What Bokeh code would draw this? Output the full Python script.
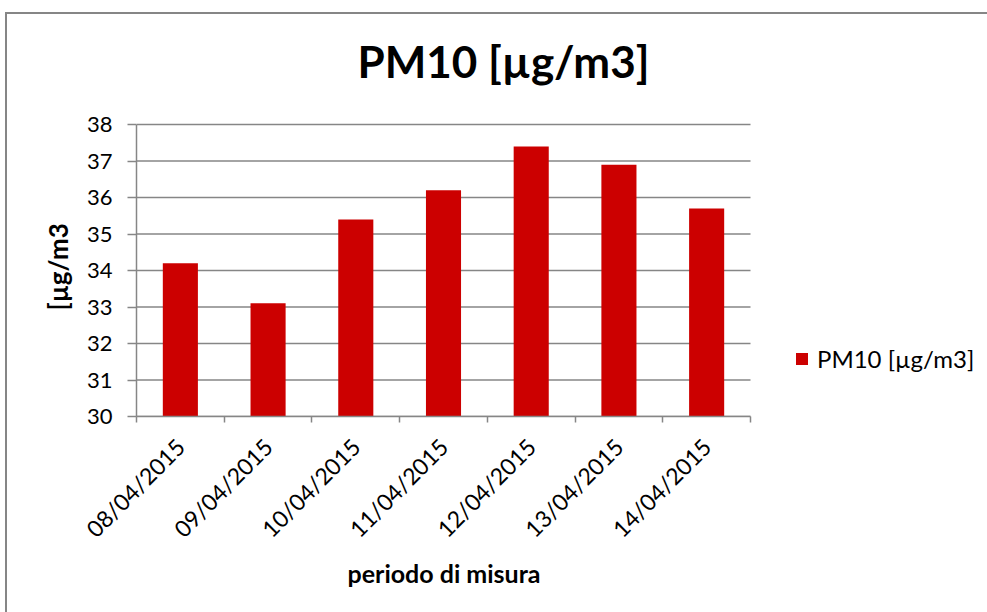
import math
from bokeh.plotting import figure
from bokeh.models import (FixedTicker, Range1d, Legend, LegendItem, ColumnDataSource,
                          Title, Label)
from bokeh.embed import file_html
from bokeh.resources import INLINE
from bokeh.core.properties import value

# ---- data ----
dates = ["08/04/2015", "09/04/2015", "10/04/2015", "11/04/2015",
         "12/04/2015", "13/04/2015", "14/04/2015"]
pm10 = [34.2, 33.1, 35.4, 36.2, 37.4, 36.9, 35.7]
y_ticks = [30, 31, 32, 33, 34, 35, 36, 37, 38]
series_name = "PM10 [µg/m3]"
title_text = "PM10 [µg/m3]"
y_label = "[µg/m3"
x_label = "periodo di misura"

FONT = "Lato"
GRID = "#868686"
BAR = "#CC0000"

# layout (pixels): plot area of the chart
W, H = 987, 612
LEFT, TOP, PLOT_RIGHT, BOTTOM = 136, 124, 750, 416
n = len(dates)
px_per_cat = (PLOT_RIGHT - LEFT) / n
px_per_unit = (BOTTOM - TOP) / (y_ticks[-1] - y_ticks[0])
# the bokeh frame extends right (legend) and up (title) beyond the plot area
x_end = n + (W - PLOT_RIGHT) / px_per_cat
y_end = y_ticks[-1] + TOP / px_per_unit

xs = [i + 0.5 for i in range(n)]
src = ColumnDataSource(dict(x=xs, top=pm10, date=dates))
grid_src = ColumnDataSource(dict(y=y_ticks, x0=[0] * len(y_ticks), x1=[n] * len(y_ticks)))

frame_lines = ("linear-gradient(#868686,#868686) 5px 12px / 2px 100% no-repeat, "
               "linear-gradient(#868686,#868686) 5px 12px / 100% 2px no-repeat, white")

p = figure(width=W, height=H, output_backend="svg", toolbar_location=None,
           x_range=Range1d(0, x_end), y_range=Range1d(y_ticks[0], y_end),
           min_border_left=LEFT, min_border_right=0, min_border_top=0,
           min_border_bottom=H - BOTTOM,
           styles={"background": frame_lines})
p.outline_line_color = None
p.background_fill_color = None
p.border_fill_color = None

# horizontal gridlines limited to the category span
p.segment(x0="x0", x1="x1", y0="y", y1="y", source=grid_src,
          line_color=GRID, line_width=1.5)

r = p.vbar(x="x", top="top", bottom=y_ticks[0], width=0.4, source=src,
           fill_color=BAR, line_color=None)

# x axis: labels at centres, tick marks at category boundaries
p.xaxis.bounds = (0, n)
p.xaxis.ticker = FixedTicker(ticks=xs, minor_ticks=list(range(n + 1)))
p.xaxis.major_label_overrides = {x: d for x, d in zip(xs, dates)}
p.xaxis.major_label_orientation = math.pi / 4
p.xaxis.major_tick_out = 0
p.xaxis.major_tick_in = 0
p.xaxis.minor_tick_out = 6
p.xaxis.minor_tick_in = 0
p.xaxis.minor_tick_line_color = GRID
p.xaxis.minor_tick_line_width = 1.5
p.xaxis.major_label_standoff = 20
p.xaxis.major_label_text_font_size = "23px"

# y axis
p.yaxis.bounds = (y_ticks[0], y_ticks[-1])
p.yaxis.ticker = FixedTicker(ticks=y_ticks)
p.yaxis.major_tick_out = 9
p.yaxis.major_tick_in = 0
p.yaxis.major_tick_line_color = GRID
p.yaxis.major_tick_line_width = 1.5
p.yaxis.major_label_standoff = 15
p.yaxis.major_label_text_font_size = "22px"

for ax in (p.xaxis, p.yaxis):
    ax.axis_line_color = GRID
    ax.axis_line_width = 1.5
    ax.major_label_text_font = FONT
    ax.major_label_text_color = "#000000"

p.grid.visible = False

# chart title (inside the enlarged frame, above the plot area)
p.add_layout(Label(x=367, y=BOTTOM - 60, x_units="screen", y_units="screen",
                   text=title_text, text_align="center", text_baseline="alphabetic",
                   text_font=FONT, text_font_size="44px", text_font_style="bold",
                   text_color="#000000"))

# axis titles
p.add_layout(Title(text=x_label, align="left", offset=211, standoff=0,
                   text_font=FONT, text_font_size="25px", text_font_style="bold",
                   text_color="#000000"), "below")
p.add_layout(Title(text=y_label, align="left", offset=106, standoff=20,
                   text_font=FONT, text_font_size="26px", text_font_style="bold",
                   text_color="#000000"), "left")

legend = Legend(items=[LegendItem(label=value(series_name), renderers=[r])],
                location=(658, 43), glyph_width=15, glyph_height=15,
                label_standoff=8, padding=0, margin=0, spacing=0,
                border_line_color=None, background_fill_alpha=0,
                label_text_font=FONT, label_text_font_size="24px",
                label_text_color="#000000")
p.add_layout(legend)

open("out.html", "w").write(file_html(p, INLINE))
